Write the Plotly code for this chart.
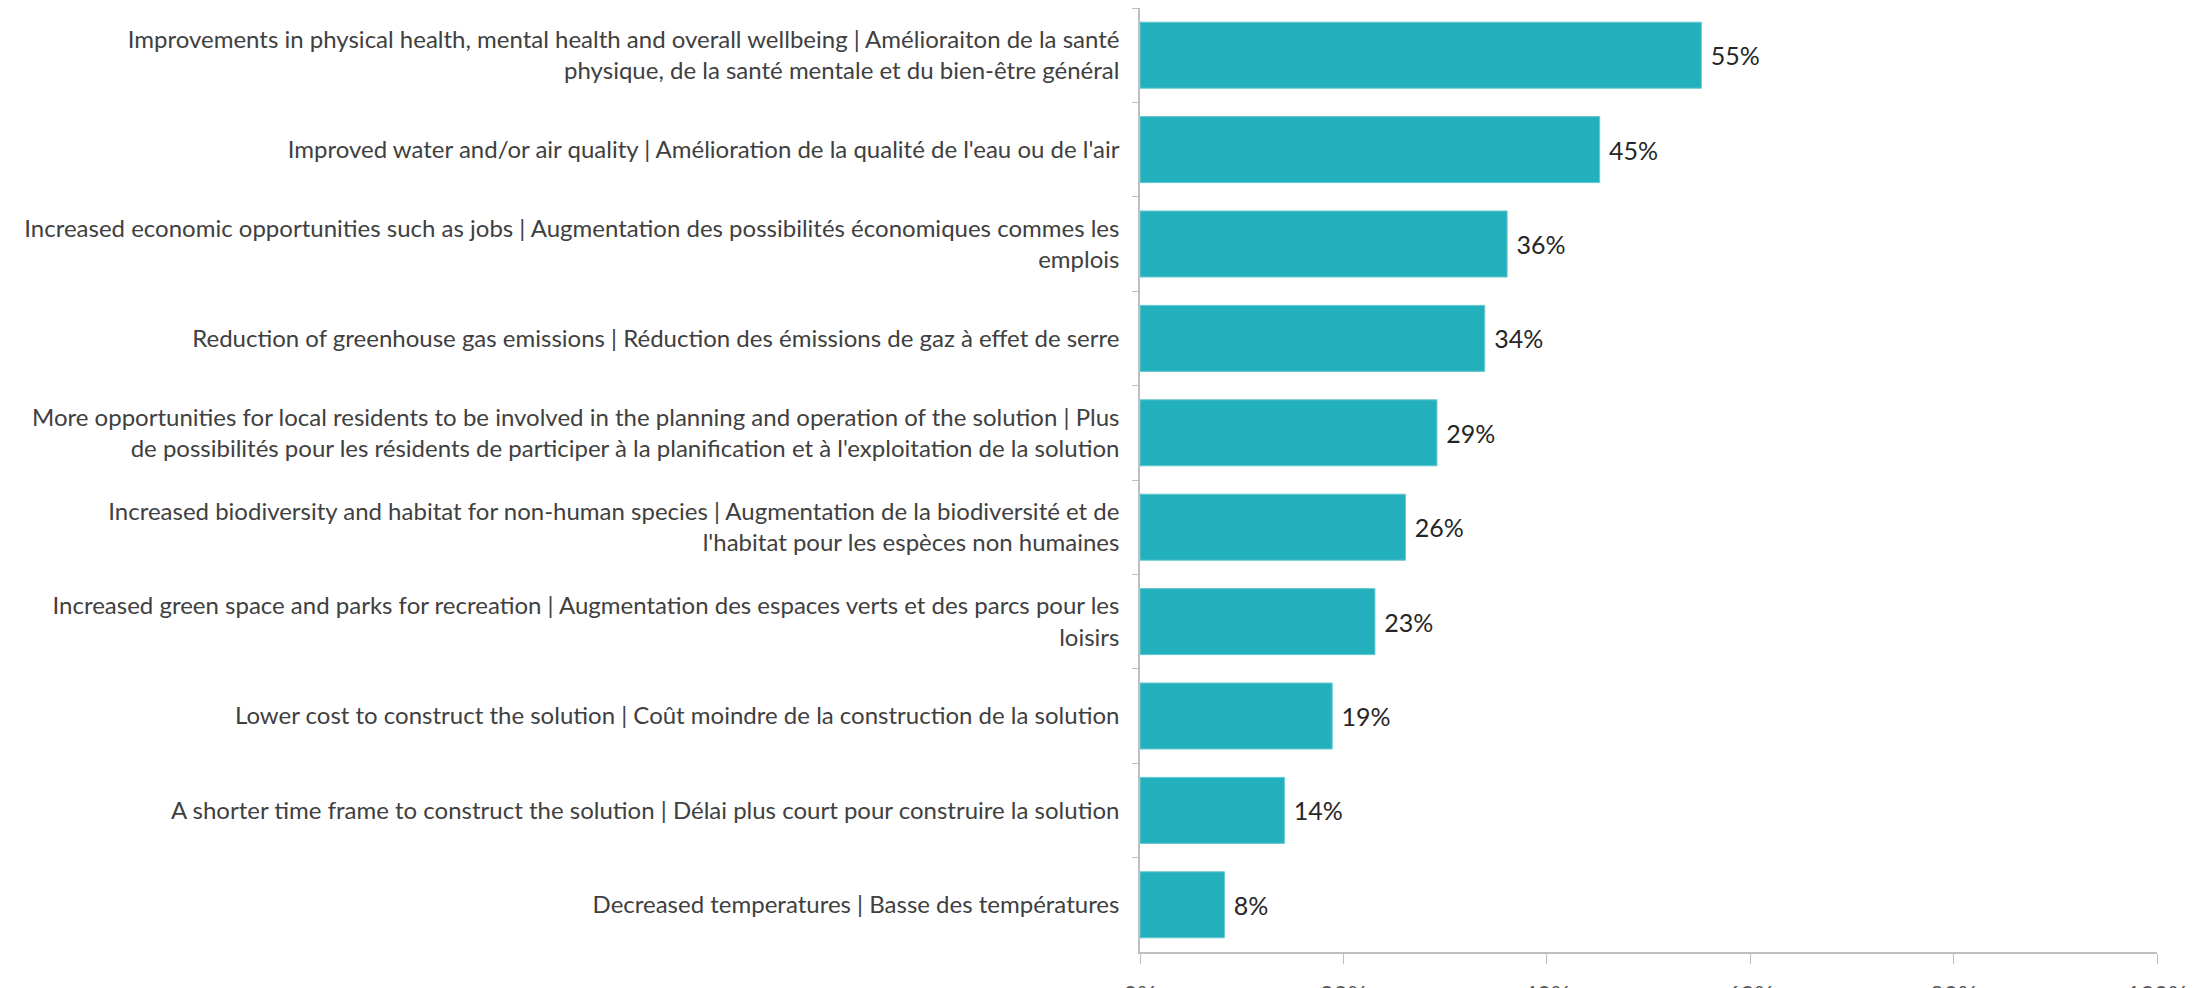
import plotly.graph_objects as go

# categories, top to bottom
benefits = [
    "Improvements in physical health, mental health and overall wellbeing | Amélioraiton de la santé<br>physique, de la santé mentale et du bien-être général",
    "Improved water and/or air quality | Amélioration de la qualité de l'eau ou de l'air",
    "Increased economic opportunities such as jobs | Augmentation des possibilités économiques commes les<br>emplois",
    "Reduction of greenhouse gas emissions | Réduction des émissions de gaz à effet de serre",
    "More opportunities for local residents to be involved in the planning and operation of the solution | Plus<br>de possibilités pour les résidents de participer à la planification et à l'exploitation de la solution",
    "Increased biodiversity and habitat for non-human species | Augmentation de la biodiversité et de<br>l'habitat pour les espèces non humaines",
    "Increased green space and parks for recreation | Augmentation des espaces verts et des parcs pour les<br>loisirs",
    "Lower cost to construct the solution | Coût moindre de la construction de la solution",
    "A shorter time frame to construct the solution | Délai plus court pour construire la solution",
    "Decreased temperatures | Basse des températures",
]
shares = [0.552, 0.452, 0.361, 0.339, 0.292, 0.261, 0.231, 0.189, 0.142, 0.083]
share_labels = ["55%", "45%", "36%", "34%", "29%", "26%", "23%", "19%", "14%", "8%"]
x_ticks = [0, 0.2, 0.4, 0.6, 0.8, 1.0]
x_tick_labels = ["0%", "20%", "40%", "60%", "80%", "100%"]

font_family = "Lato, 'Open Sans', sans-serif"

fig = go.Figure()
fig.add_trace(
    go.Bar(
        x=shares,
        y=benefits,
        orientation="h",
        marker=dict(color="#22B0BC", line=dict(color="#6CCAD2", width=1)),
        text=share_labels,
        texttemplate=" %{text}",
        textposition="outside",
        textfont=dict(size=25, color="#262626", family=font_family),
        cliponaxis=False,
        hoverinfo="skip",
    )
)

# page body adds 8px offset, so the figure is sized a bit smaller
fig.update_layout(
    width=2197,
    height=980,
    margin=dict(l=1132, r=48, t=0, b=36, autoexpand=False),
    plot_bgcolor="white",
    paper_bgcolor="white",
    bargap=0.30,
    showlegend=False,
    font=dict(family=font_family, size=24, color="#404040"),
)

fig.update_xaxes(
    range=[0, 1],
    tickvals=x_ticks,
    ticktext=x_tick_labels,
    showgrid=False,
    zeroline=False,
    showline=True,
    linecolor="#BFBFBF",
    linewidth=1.5,
    ticks="outside",
    ticklen=10,
    tickcolor="#BFBFBF",
    ticklabelstandoff=10,
    tickfont=dict(size=24, color="#595959"),
    automargin=False,
)

fig.update_yaxes(
    autorange="reversed",
    showgrid=False,
    showline=True,
    linecolor="#BFBFBF",
    linewidth=1.5,
    ticks="outside",
    tickson="boundaries",
    ticklen=6,
    tickcolor="#BFBFBF",
    ticklabelstandoff=14,
    tickfont=dict(size=24, color="#404040"),
    automargin=False,
)

fig.write_html("out.html")
